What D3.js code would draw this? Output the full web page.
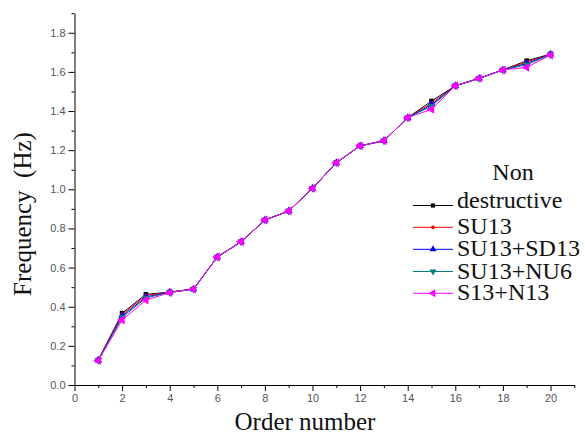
<!DOCTYPE html>
<html><head><meta charset="utf-8">
<script src="https://cdn.jsdelivr.net/npm/d3@7/dist/d3.min.js"></script>
</head><body style="margin:0">
<svg id="c" width="585" height="436"></svg>
<script>
const orders = [1,2,3,4,5,6,7,8,9,10,11,12,13,14,15,16,17,18,19,20];
const seriesNames = ["Non destructive","SU13","SU13+SD13","SU13+NU6","S13+N13"];
const nonDestructive = [0.128,0.367,0.463,0.475,0.490,0.654,0.732,0.843,0.889,1.005,1.136,1.222,1.248,1.366,1.451,1.529,1.567,1.610,1.657,1.691];
const su13 =           [0.128,0.360,0.457,0.475,0.490,0.654,0.732,0.843,0.889,1.005,1.136,1.222,1.248,1.366,1.440,1.529,1.567,1.610,1.650,1.690];
const su13sd13 =       [0.127,0.352,0.450,0.474,0.490,0.654,0.732,0.843,0.889,1.005,1.136,1.222,1.248,1.366,1.432,1.529,1.567,1.610,1.643,1.690];
const su13nu6 =        [0.126,0.345,0.445,0.473,0.490,0.654,0.732,0.843,0.889,1.005,1.136,1.222,1.248,1.366,1.425,1.529,1.567,1.610,1.637,1.688];
const s13n13 =         [0.125,0.332,0.434,0.472,0.490,0.654,0.732,0.843,0.889,1.005,1.136,1.222,1.248,1.366,1.409,1.529,1.567,1.610,1.623,1.686];
const xTicks = [0,2,4,6,8,10,12,14,16,18,20];
const yTicks = [0.0,0.2,0.4,0.6,0.8,1.0,1.2,1.4,1.6,1.8];

const colors = ["#000000","#ff0000","#0000ff","#008080","#ff00ff"];
const allSeries = [nonDestructive, su13, su13sd13, su13nu6, s13n13];
const SERIF = '"Times New Roman"';
const SANS = '"Liberation Sans"';

const svg = d3.select("#c");
const x = d3.scaleLinear().domain([0,21]).range([74.5,574.3]);
const y = d3.scaleLinear().domain([0,1.9]).range([385,13.2]);

const xMinor = d3.range(1,22,2);
const yMinor = d3.range(1,20,2).map(d=>d/10);

const gx = svg.append("g").attr("transform","translate(0,385)");
gx.call(d3.axisBottom(x).tickValues(xTicks).tickFormat(d3.format("d")).tickSizeInner(6).tickSizeOuter(0).tickPadding(3));
gx.append("g").call(d3.axisBottom(x).tickValues(xMinor).tickFormat("").tickSizeInner(3).tickSizeOuter(0)).select(".domain").remove();

const gy = svg.append("g").attr("transform","translate(74.5,0)");
gy.call(d3.axisLeft(y).tickValues(yTicks).tickFormat(d3.format(".1f")).tickSizeInner(6).tickSizeOuter(0).tickPadding(3));
gy.append("g").call(d3.axisLeft(y).tickValues(yMinor).tickFormat("").tickSizeInner(3).tickSizeOuter(0)).select(".domain").remove();

svg.selectAll(".tick text").style("font-family",SANS).attr("font-size",11).attr("fill","#555");
svg.selectAll(".domain, .tick line").attr("stroke","#000").attr("stroke-width",1);

// titles
const titles = svg.append("g").attr("font-family","Times New Roman").style("font-family",SERIF);
titles.append("text").attr("x",305).attr("y",430).attr("text-anchor","middle")
  .attr("font-family","Times New Roman").style("font-family",SERIF).attr("font-size",25).attr("fill","#111").text("Order number");
titles.append("text").attr("transform","translate(31,214) rotate(-90)").attr("text-anchor","middle")
  .attr("font-family","Times New Roman").style("font-family",SERIF).attr("xml:space","preserve").attr("font-size",25).attr("fill","#111").text("Frequency\u00a0 (Hz)");

// markers
const symbols = [
  {type:d3.symbolSquare,size:22,rot:0},
  {type:d3.symbolCircle,size:14,rot:0},
  {type:d3.symbolTriangle,size:26,rot:0},
  {type:d3.symbolTriangle,size:26,rot:180},
  {type:d3.symbolTriangle,size:34,rot:-90}
];

const line = d3.line().x((d,i)=>x(orders[i])).y(d=>y(d));
allSeries.forEach((s,k)=>{
  const g = svg.append("g");
  g.append("path").datum(s).attr("d",line).attr("fill","none").attr("stroke",colors[k]).attr("stroke-width",1);
  const sym = d3.symbol().type(symbols[k].type).size(symbols[k].size);
  g.selectAll("path.m").data(s).join("path").attr("class","m")
    .attr("d",sym)
    .attr("transform",(d,i)=>`translate(${x(orders[i])},${y(d)}) rotate(${symbols[k].rot})`)
    .attr("fill",colors[k]);
});

// legend
const lg = svg.append("g").attr("font-family","Times New Roman").style("font-family",SERIF);
lg.append("text").attr("x",513).attr("y",180).attr("text-anchor","middle")
  .attr("font-family","Times New Roman").style("font-family",SERIF).attr("font-size",24).attr("fill","#111").text("Non");
const legendLabels = ["destructive","SU13","SU13+SD13","SU13+NU6","S13+N13"];
const lineYs = [205.5,227.3,249.3,271.5,293.3];
legendLabels.forEach((t,k)=>{
  const ly = lineYs[k];
  lg.append("line").attr("x1",413).attr("x2",453).attr("y1",ly).attr("y2",ly).attr("stroke",colors[k]).attr("stroke-width",1);
  lg.append("path").attr("d",d3.symbol().type(symbols[k].type).size(symbols[k].size*0.8)())
    .attr("transform",`translate(433,${ly}) rotate(${symbols[k].rot})`).attr("fill",colors[k]);
  lg.append("text").attr("x",457).attr("y",ly+(k===0?2.5:7))
    .attr("font-family","Times New Roman").style("font-family",SERIF).attr("font-size",24).attr("fill","#111").text(t);
});
</script>
</body></html>
